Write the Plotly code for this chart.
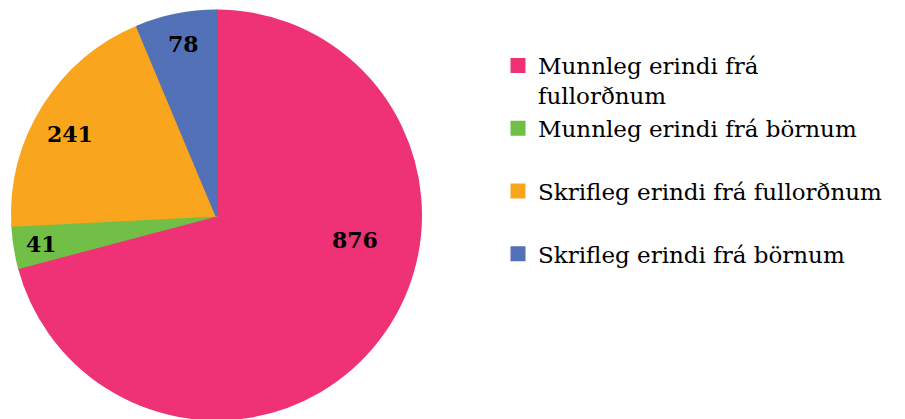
import plotly.graph_objects as go

labels = ["Munnleg erindi frá<br>fullorðnum",
          "Munnleg erindi frá börnum<br>&nbsp;",
          "Skrifleg erindi frá fullorðnum<br>&nbsp;",
          "Skrifleg erindi frá börnum<br>&nbsp;"]
values = [876, 41, 241, 78]
colors = ["#EE3275", "#71BF46", "#F9A51D", "#5271B6"]
# label centre positions (pixels) for data labels
label_pos = [(355, 240), (41, 244), (70, 134), (183, 44)]

W, H = 905, 419

fig = go.Figure(go.Pie(
    labels=labels, values=values, sort=False, direction="clockwise",
    rotation=0, marker=dict(colors=colors, line=dict(color=colors, width=3)),
    textinfo="none", hoverinfo="label+value",
    domain=dict(x=[0, 433 / W], y=[0, 408 / H]),
))

for v, (px, py) in zip(values, label_pos):
    fig.add_annotation(x=px / W, y=1 - py / H, xref="paper", yref="paper",
                       xanchor="center", yanchor="middle",
                       text=f"<b>{v}</b>", showarrow=False,
                       font=dict(family="DejaVu Serif", size=22, color="black"))

fig.update_layout(
    width=W, height=H, margin=dict(l=0, r=0, t=0, b=0),
    paper_bgcolor="white", plot_bgcolor="white",
    font=dict(family="DejaVu Serif", color="black"),
    legend=dict(x=498 / W, y=1 - 44 / H, xanchor="left", yanchor="top",
                valign="top", font=dict(family="DejaVu Serif", size=23, color="black"),
                bgcolor="rgba(0,0,0,0)", tracegroupgap=0),
)

fig.write_html("out.html")
